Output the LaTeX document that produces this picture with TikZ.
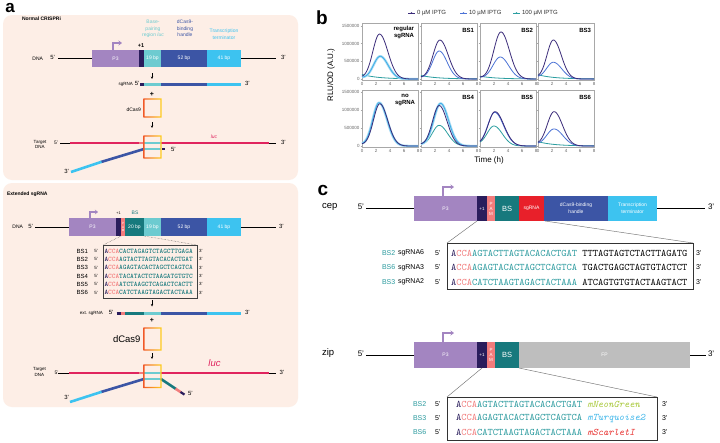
\documentclass[tikz,border=0pt]{standalone}
\usepackage{fontspec}
\setmainfont{Liberation Sans}
\usetikzlibrary{arrows.meta}
\definecolor{bgpink}{HTML}{FDEEE6}
\definecolor{pthree}{HTML}{A385C1}
\definecolor{navyc}{HTML}{2A1D5C}
\definecolor{salm}{HTML}{F27C7C}
\definecolor{dteal}{HTML}{17797D}
\definecolor{lteal}{HTML}{6DCBD0}
\definecolor{dblue}{HTML}{3C55A5}
\definecolor{lblue}{HTML}{3DC3F0}
\definecolor{sgred}{HTML}{E8202A}
\definecolor{fpgray}{HTML}{BEBEBE}
\definecolor{crim}{HTML}{E0245E}
\definecolor{casL}{HTML}{F15A29}
\definecolor{casR}{HTML}{FFD21F}
\definecolor{cZero}{HTML}{3B2C7A}
\definecolor{cTen}{HTML}{4B72D6}
\definecolor{cTenL}{HTML}{3FAEE6}
\definecolor{cHun}{HTML}{2B9EA0}
\definecolor{seqteal}{HTML}{2A9A9E}
\definecolor{neon}{HTML}{A9C93B}
\definecolor{turq}{HTML}{3DB6EA}
\definecolor{scar}{HTML}{E8302E}
\definecolor{txtgray}{HTML}{333333}
\definecolor{axgray}{HTML}{A8A8A8}
\newcommand\seqA[1]{{\color{navyc}A}{\color{salm}CCA}{\color{dteal}#1}}
\newcommand\seqC[1]{{\color{navyc}A}{\color{salm}CCA}{\color{seqteal}#1}}
\newcommand\seqAfont{\fontsize{7}{8}\selectfont\ttfamily\bfseries}
\newcommand\seqCfont{\fontsize{10}{12}\selectfont\ttfamily}
\newcommand\gcurve[8]{\draw[#8] plot[domain=0:8,samples=81,smooth] ({#1+7*\x},{#2-#3*(#4*exp(-((\x-#5)/((\x<#5)*#6+(\x>=#5)*#7))*((\x-#5)/((\x<#5)*#6+(\x>=#5)*#7)))+0.04*exp(-\x))});}
\newcommand\dcurve[5]{\draw[#5] plot[domain=0:8,samples=31,smooth] ({#1+7*\x},{#2-#3*#4*exp(-\x/2.3)});}
\newcommand\casbox[4]{\shade[left color=casL,right color=casR,even odd rule] (#1-0.7,#2-0.7) rectangle (#3+0.7,#4+0.7) (#1+0.7,#2+0.7) rectangle (#3-0.7,#4-0.7);}
\begin{document}
\begin{tikzpicture}[x=1pt,y=-1pt,
  every node/.style={inner sep=0pt,outer sep=0pt},
  t4/.style={font=\fontsize{4.5}{5}\selectfont},
  t5/.style={font=\fontsize{5}{6}\selectfont},
  t6/.style={font=\fontsize{6}{7}\selectfont},
  dn/.style={-{Stealth[length=2.5pt,width=2.4pt]},line width=0.6},
  prom/.style={pthree,line width=1.4,-{Stealth[length=3.5pt,width=5pt]}},
  zoomln/.style={densely dotted,line width=0.45,black!70},
  zoomlc/.style={line width=0.45,black!55},
  strand/.style={line width=2.6},
  rna/.style={line width=3},
  czero/.style={cZero,line width=0.8},
  cten/.style={cTen,line width=0.8},
  ctenl/.style={cTenL,line width=0.8},
  cband/.style={cTenL!45,line width=2.4},
  chun/.style={cHun,line width=0.8},
  pframe/.style={axgray,line width=0.5}]
\useasboundingbox (0,0) rectangle (720,442);
\fill[white] (0,0) rectangle (720,442);

% ================= panel a =================
\node[font=\fontsize{17}{17}\selectfont\bfseries] (la) at (10,8.5) {a};
\fill[bgpink,rounded corners=9] (3,15) rectangle (298,180);
\fill[bgpink,rounded corners=9] (3,183) rectangle (298,407);
\node[anchor=west,font=\fontsize{5}{6}\selectfont\bfseries] (ncr) at (22,19) {Normal CRISPRi};

% labels above top DNA
\node[t5,lteal,align=center,anchor=north] (bpr) at (153,20) {Base-\\[0.6pt]pairing\\[0.6pt]region \textit{luc}};
\node[t5,dblue,align=center,anchor=north] (dbh) at (185,20) {dCas9-\\[0.6pt]binding\\[0.6pt]handle};
\node[t5,lblue,align=center,anchor=north] (ttm) at (224,29) {Transcription\\[0.6pt]terminator};

% top DNA
\draw[line width=0.6] (58,58.5)--(92,58.5) (241,58.5)--(276,58.5);
\fill[pthree] (92,50) rectangle (139,67);
\fill[navyc] (139,50) rectangle (144,67);
\fill[lteal] (144,50) rectangle (161,67);
\fill[dblue] (161,50) rectangle (207,67);
\fill[lblue] (207,50) rectangle (241,67);
\node[t5,white] (p3a) at (115.5,58.5) {P3};
\node[t5,white] (b19a) at (152.5,58.5) {19 bp};
\node[t5,white] (b52a) at (184,58.5) {52 bp};
\node[t5,white] (b41a) at (224,58.5) {41 bp};
\node[t5,anchor=east] (dnaa) at (43,58.5) {DNA};
\node[t6,anchor=east] (f5a) at (55,57.5) {5'};
\node[t6,anchor=west] (f3a) at (281,57.5) {3'};
\draw[prom] (113,50)--(113,43)--(122,43);
\node[font=\fontsize{5.5}{6}\selectfont\bfseries] (p1a) at (141,45.5) {+1};

\draw[dn] (152,73)--(152,79);
% sgRNA
\draw[rna,navyc] (140,84)--(144,84);
\draw[rna,lteal] (144,84)--(161,84);
\draw[rna,dblue] (161,84)--(207,84);
\draw[rna,lblue] (207,84)--(241,84);
\node[t4,anchor=east] (sga) at (133,84.5) {sgRNA};
\node[t6,anchor=east] (sg5) at (139.5,83) {5'};
\node[t6,anchor=west] (sg3) at (245,83.5) {3'};
\node[font=\fontsize{7}{7}\selectfont\bfseries] (plA) at (152,94.5) {+};
\casbox{144}{99}{161}{117}
\node[t5,anchor=east] (dcA) at (141,110) {dCas9};
\draw[dn] (152,122)--(152,128);

% target DNA (top)
\draw[line width=0.6] (60,143)--(276,143);
\draw[strand,crim] (70,143)--(139,143);
\draw[strand,salm] (139,143)--(144,143);
\draw[strand,lteal] (144,143)--(161,143);
\draw[strand,crim] (161,143)--(269,143);
\draw[strand,lteal] (144,149)--(161,149);
\fill[navyc] (162,147.6) rectangle (164.8,150.4);
\draw[strand,dblue] (144,149)--(101,162);
\draw[strand,lblue] (101.5,161.85)--(71,172);
\casbox{144}{136}{161}{158}
\node[t6,anchor=west] (t5a) at (171,149.5) {5'};
\node[t6,anchor=east] (t3a) at (69,171) {3'};
\node[t5,anchor=east] (tl5) at (58,142.5) {5'};
\node[t6,anchor=west] (tr3) at (281,142.5) {3'};
\node[t4,align=center] (tdA) at (40,144.5) {Target\\[0.5pt]DNA};
\node[t5,crim] (lucA) at (214,136.5) {\textit{luc}};

% ---- extended sgRNA ----
\node[anchor=west,font=\fontsize{5}{6}\selectfont\bfseries] (ext) at (7,194) {Extended sgRNA};
\draw[line width=0.6] (35,227)--(69,227) (241,227)--(276,227);
\fill[pthree] (69,218) rectangle (116,236);
\fill[navyc] (116,218) rectangle (121,236);
\fill[salm] (121,218) rectangle (125,236);
\fill[dteal] (125,218) rectangle (144,236);
\fill[lteal] (144,218) rectangle (161,236);
\fill[dblue] (161,218) rectangle (207,236);
\fill[lblue] (207,218) rectangle (241,236);
\node[t5,white] (p3b) at (92.5,227) {P3};
\node[font=\fontsize{3}{3.3}\selectfont,white,align=center] (pamb) at (123,227) {P\\A\\M};
\node[t5,white] (b20b) at (134.5,227) {20 bp};
\node[t5,white] (b19b) at (152.5,227) {19 bp};
\node[t5,white] (b52b) at (184,227) {52 bp};
\node[t5,white] (b41b) at (224,227) {41 bp};
\node[t5,anchor=east] (dnab) at (23,227) {DNA};
\node[t6,anchor=east] (f5b) at (33,226.5) {5'};
\node[t6,anchor=west] (f3b) at (279,226.5) {3'};
\draw[pthree,line width=1.2,-{Stealth[length=3pt,width=4.5pt]}] (90,218)--(90,212)--(98,212);
\node[font=\fontsize{3.8}{4}\selectfont] (p1b) at (118.5,213.5) {+1};
\node[t5,dteal] (bsb) at (135,212.5) {BS};
\draw[zoomln] (121,236)--(103,245);
\draw[zoomln] (144,236)--(197,245);
\draw[line width=0.8,black!75] (103,245) rectangle (197,298);
\foreach \n/\s/\yy in {1/CACTAGAGTCTAGCTTGAGA/251,2/AGTACTTAGTACACACTGAT/259.3,3/AGAGTACACTAGCTCAGTCA/267.7,4/TACATACTCTAAGATGTGTC/276,5/ATCTAAGCTCAGACTCACTT/284.3,6/CATCTAAGTAGACTACTAAA/292.7}{
  \node[t6,anchor=east] (bsl\n) at (88,\yy) {BS\n};
  \node[t4,anchor=east] (bs5\n) at (98,\yy) {5'};
  \node[anchor=west,font=\seqAfont] (bss\n) at (104.5,\yy) {\seqA{\s}};
  \node[t4,anchor=west] (bs3\n) at (199,\yy) {3'};
}
\draw[dn] (152,300)--(152,306.5);
\draw[rna,navyc] (116.5,313)--(121,313);
\draw[rna,salm] (121,313)--(125,313);
\draw[rna,dteal] (125,313)--(144,313);
\draw[rna,lteal] (144,313)--(161,313);
\draw[rna,dblue] (161,313)--(207,313);
\draw[rna,lblue] (207,313)--(241,313);
\node[t4,anchor=east] (esg) at (103,313.5) {ext. sgRNA};
\node[t6,anchor=east] (esg5) at (113.5,312.5) {5'};
\node[t6,anchor=west] (esg3) at (245,312.5) {3'};
\node[font=\fontsize{7}{7}\selectfont\bfseries] (plB) at (152,320.5) {+};
\casbox{144}{328}{161}{350}
\node[font=\fontsize{9.5}{10}\selectfont,anchor=east] (dcB) at (140.5,339.5) {dCas9};
\draw[dn] (152,353)--(152,359);

% target DNA (bottom)
\draw[line width=0.6] (58,373)--(276,373);
\draw[strand,crim] (69,373)--(139,373);
\draw[strand,salm] (139,373)--(144,373);
\draw[strand,lteal] (144,373)--(161,373);
\draw[strand,crim] (161,373)--(269,373);
\draw[strand,lteal] (144,379)--(161,379);
\draw[strand,dblue] (144,379)--(101,392);
\draw[strand,lblue] (101.5,391.85)--(70,402);
\draw[strand,dteal] (161,379)--(176,389);
\draw[strand,salm] (175.5,388.7)--(181,392.3);
\draw[line width=2.2,navyc] (180.5,392)--(184.5,394.6);
\casbox{144}{365}{161}{387.5}
\node[t6,anchor=west] (t5b) at (188,393.5) {5'};
\node[t6,anchor=east] (t3b) at (69,397) {3'};
\node[t5,anchor=east] (tl5b) at (58.5,372.5) {5'};
\node[t6,anchor=west] (tr3b) at (279.5,372.5) {3'};
\node[t4,align=center] (tdB) at (39.5,372) {Target\\[0.5pt]DNA};
\node[font=\fontsize{9.5}{10}\selectfont\itshape,crim] (lucB) at (214.5,363) {luc};

% ================= panel b =================
\node[font=\fontsize{19}{19}\selectfont\bfseries] (lb) at (322,18) {b};
% legend
\draw[czero] (408,13)--(415,13); \fill[cZero] (411.5,13) circle (0.9);
\node[t6,anchor=west,txtgray] (lg0) at (417,13) {0 µM IPTG};
\draw[cten] (460,13)--(467,13); \fill[cTen] (463.5,13) circle (0.9);
\node[t6,anchor=west,txtgray] (lg1) at (469,13) {10 µM IPTG};
\draw[chun] (513,13)--(520,13); \fill[cHun] (516.5,13) circle (0.9);
\node[t6,anchor=west,txtgray] (lg2) at (522,13) {100 µM IPTG};
% frames and ticks
\foreach \xo in {362,421,480,538}{
  \draw[pframe] (\xo,23) rectangle (\xo+56,80);
  \draw[pframe] (\xo,90) rectangle (\xo+56,147);
  \foreach \k in {0,2,4,6,8}{
    \node[font=\fontsize{4.5}{5}\selectfont,black!60] at (\xo+7*\k,83.5) {\k};
    \node[font=\fontsize{4.5}{5}\selectfont,black!60] at (\xo+7*\k,150.5) {\k};
    \draw[pframe] (\xo+7*\k,80)--(\xo+7*\k,81.3) (\xo+7*\k,147)--(\xo+7*\k,148.3);
  }
  \foreach \v in {0,0.5,1,1.5}{
    \draw[pframe] (\xo-1.3,79-35.3*\v)--(\xo,79-35.3*\v);
    \draw[pframe] (\xo-1.3,146-36*\v)--(\xo,146-36*\v);
  }
}
\foreach \v/\tx in {0/0,0.5/500000,1/1000000,1.5/1500000}{
  \node[font=\fontsize{4.5}{5}\selectfont,black!60,anchor=east] at (359.5,79-35.3*\v) {\tx};
  \node[font=\fontsize{4.5}{5}\selectfont,black!60,anchor=east] at (359.5,146-36*\v) {\tx};
}
\node[font=\fontsize{8}{9}\selectfont,rotate=90] (ylab) at (331,75) {RLU/OD (A.U.)};
\node[font=\fontsize{8}{9}\selectfont] (xlab) at (489,160) {Time (h)};
% titles
\node[font=\fontsize{6}{7}\selectfont\bfseries,align=right,anchor=north east] (ti1) at (414,26) {regular\\sgRNA};
\node[font=\fontsize{6}{7}\selectfont\bfseries,anchor=east] (ti2) at (474,30) {BS1};
\node[font=\fontsize{6}{7}\selectfont\bfseries,anchor=east] (ti3) at (533,30) {BS2};
\node[font=\fontsize{6}{7}\selectfont\bfseries,anchor=east] (ti4) at (591,30) {BS3};
\node[font=\fontsize{6}{7}\selectfont\bfseries,align=center,anchor=north] (ti5) at (405,94) {no\\sgRNA};
\node[font=\fontsize{6}{7}\selectfont\bfseries,anchor=east] (ti6) at (474,97) {BS4};
\node[font=\fontsize{6}{7}\selectfont\bfseries,anchor=east] (ti7) at (533,97) {BS5};
\node[font=\fontsize{6}{7}\selectfont\bfseries,anchor=east] (ti8) at (591,97) {BS6};
% curves row 1
\dcurve{362}{79}{35.3}{0.13}{chun}
\gcurve{362}{79}{35.3}{0.64}{2.6}{1.35}{1.6}{cband}
\gcurve{362}{79}{35.3}{0.64}{2.6}{1.35}{1.6}{ctenl}
\gcurve{362}{79}{35.3}{1.27}{2.5}{1.35}{1.7}{czero}
\dcurve{421}{79}{35.3}{0.10}{chun}
\gcurve{421}{79}{35.3}{0.79}{2.6}{1.35}{1.6}{cten}
\gcurve{421}{79}{35.3}{1.10}{2.7}{1.4}{1.7}{czero}
\dcurve{480}{79}{35.3}{0.08}{chun}
\gcurve{480}{79}{35.3}{0.62}{2.9}{1.5}{1.7}{cten}
\gcurve{480}{79}{35.3}{1.33}{3.0}{1.45}{1.7}{czero}
\dcurve{538}{79}{35.3}{0.12}{chun}
\gcurve{538}{79}{35.3}{0.47}{2.2}{1.4}{1.7}{cten}
\gcurve{538}{79}{35.3}{1.10}{2.2}{1.3}{1.6}{czero}
% curves row 2
\gcurve{362}{146}{36}{1.18}{2.5}{1.3}{1.6}{chun}
\gcurve{362}{146}{36}{1.20}{2.45}{1.3}{1.6}{cband}
\gcurve{362}{146}{36}{1.20}{2.45}{1.3}{1.6}{ctenl}
\gcurve{362}{146}{36}{1.17}{2.55}{1.3}{1.6}{czero}
\gcurve{421}{146}{36}{0.57}{2.6}{1.4}{1.7}{chun}
\gcurve{421}{146}{36}{1.18}{2.8}{1.4}{1.6}{cband}
\gcurve{421}{146}{36}{1.18}{2.8}{1.4}{1.6}{ctenl}
\gcurve{421}{146}{36}{1.12}{2.6}{1.35}{1.6}{czero}
\gcurve{480}{146}{36}{0.55}{2.0}{1.4}{1.7}{chun}
\gcurve{480}{146}{36}{0.93}{2.1}{1.4}{1.8}{cten}
\gcurve{480}{146}{36}{0.95}{2.15}{1.4}{1.8}{czero}
\dcurve{538}{146}{36}{0.12}{chun}
\gcurve{538}{146}{36}{0.47}{2.3}{1.5}{1.8}{cten}
\gcurve{538}{146}{36}{0.95}{2.3}{1.4}{1.7}{czero}

% ================= panel c =================
\node[font=\fontsize{19}{19}\selectfont\bfseries] (lc) at (323,190) {c};
% cep
\draw[line width=0.7] (366,208.5)--(414,208.5) (657,208.5)--(705,208.5);
\fill[pthree] (414,196) rectangle (477,221);
\fill[navyc] (477,196) rectangle (487,221);
\fill[salm] (487,196) rectangle (495,221);
\fill[dteal] (495,196) rectangle (519,221);
\fill[sgred] (519,196) rectangle (544,221);
\fill[dblue] (544,196) rectangle (608,221);
\fill[lblue] (608,196) rectangle (657,221);
\node[t5,white] (cp3) at (445.5,208.5) {P3};
\node[t4,white] (cp1) at (482,208.5) {+1};
\node[font=\fontsize{4.5}{5}\selectfont,white,align=center] (cpam) at (491,208.5) {P\\A\\M};
\node[font=\fontsize{7.5}{8}\selectfont,white] (cbs) at (507,208.5) {BS};
\node[t5,white] (csg) at (531.5,208.5) {sgRNA};
\node[t5,white,align=center] (cdh) at (576,208.5) {dCas9-binding\\[0.6pt]handle};
\node[t5,white,align=center] (ctt) at (632.5,208.5) {Transcription\\[0.6pt]terminator};
\node[font=\fontsize{9.5}{10}\selectfont,anchor=west] (cepl) at (322,206.5) {cep};
\node[font=\fontsize{8}{9}\selectfont,anchor=east] (c5) at (364,207) {5'};
\node[font=\fontsize{8}{9}\selectfont,anchor=west] (c3) at (708,207) {3'};
\draw[prom] (443,196)--(443,187)--(454,187);
\draw[zoomlc] (477,221)--(447,243);
\draw[zoomlc] (545,221)--(693,243);
\draw[line width=0.7,black!80] (447,243) rectangle (693,289);
\foreach \n/\bs/\sg/\s/\b/\yy in {a/BS2/sgRNA6/AGTACTTAGTACACACTGAT/TTTAGTAGTCTACTTAGATG/253,b/BS6/sgRNA3/AGAGTACACTAGCTCAGTCA/TGACTGAGCTAGTGTACTCT/267.5,c/BS3/sgRNA2/CATCTAAGTAGACTACTAAA/ATCAGTGTGTACTAAGTACT/282}{
  \node[font=\fontsize{7}{8}\selectfont,seqteal,anchor=west] (cbl\n) at (382,\yy) {\bs};
  \node[font=\fontsize{7}{8}\selectfont,anchor=west] (csl\n) at (398,\yy) {\sg};
  \node[font=\fontsize{7}{8}\selectfont,anchor=west] (c5\n) at (435,\yy) {5'};
  \node[font=\seqCfont,anchor=west] (cs\n) at (451,\yy) {\seqC{\s} \b};
  \node[font=\fontsize{7}{8}\selectfont,anchor=west] (c3\n) at (696,\yy) {3'};
}
% zip
\draw[line width=0.7] (366,355)--(414,355) (690,355)--(706,355);
\fill[pthree] (414,342) rectangle (477,368);
\fill[navyc] (477,342) rectangle (487,368);
\fill[salm] (487,342) rectangle (495,368);
\fill[dteal] (495,342) rectangle (519,368);
\fill[fpgray] (519,342) rectangle (690,368);
\node[t5,white] (zp3) at (445.5,355) {P3};
\node[t4,white] (zp1) at (482,355) {+1};
\node[font=\fontsize{4.5}{5}\selectfont,white,align=center] (zpam) at (491,355) {P\\A\\M};
\node[font=\fontsize{7.5}{8}\selectfont,white] (zbs) at (507,355) {BS};
\node[t5,white] (zfp) at (604.5,355) {FP};
\node[font=\fontsize{9.5}{10}\selectfont,anchor=west] (zipl) at (322,353) {zip};
\node[font=\fontsize{8}{9}\selectfont,anchor=east] (z5) at (364,353.5) {5'};
\node[font=\fontsize{8}{9}\selectfont,anchor=west] (z3) at (708,353.5) {3'};
\draw[prom] (443,342)--(443,333)--(454,333);
\draw[zoomlc] (482,368)--(447,397);
\draw[zoomlc] (519,368)--(657,397);
\draw[line width=0.7,black!80] (447,397) rectangle (657,440.5);
\foreach \n/\bs/\s/\fp/\fc/\yy in {a/BS2/AGTACTTAGTACACACTGAT/mNeonGreen/neon/404.3,b/BS3/AGAGTACACTAGCTCAGTCA/mTurquoise2/turq/418.3,c/BS6/CATCTAAGTAGACTACTAAA/mScarletI/scar/432.3}{
  \node[font=\fontsize{7}{8}\selectfont,seqteal,anchor=west] (zbl\n) at (413,\yy) {\bs};
  \node[font=\fontsize{7}{8}\selectfont,anchor=west] (z5\n) at (435,\yy) {5'};
  \node[font=\seqCfont,anchor=west] (zs\n) at (456,\yy) {\seqC{\s} {\color{\fc}\itshape\fp}};
  \node[font=\fontsize{7}{8}\selectfont,anchor=west] (z3\n) at (662,\yy) {3'};
}
\end{tikzpicture}
\end{document}
